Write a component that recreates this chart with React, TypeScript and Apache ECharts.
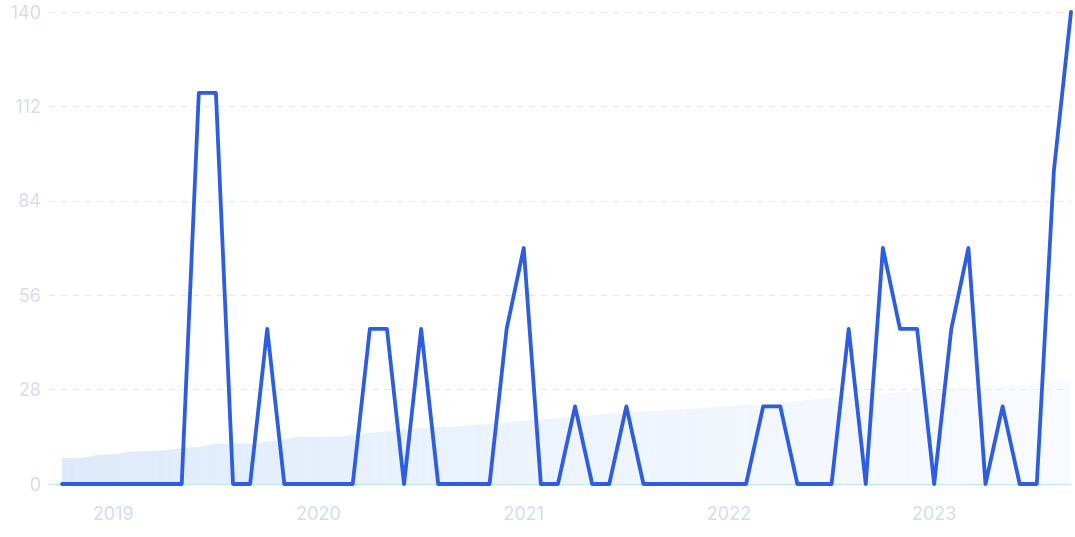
import React, { useEffect, useRef } from "react";
import * as echarts from "echarts";

const monthIndex: number[] = Array.from({ length: 60 }, (_, i) => i);

const seriesValues: number[] = [
  0, 0, 0, 0, 0, 0, 0, 0, 116, 116,
  0, 0, 46, 0, 0, 0, 0, 0, 46, 46,
  0, 46, 0, 0, 0, 0, 46, 70, 0, 0,
  23, 0, 0, 23, 0, 0, 0, 0, 0, 0,
  0, 23, 23, 0, 0, 0, 46, 0, 70, 46,
  46, 0, 46, 70, 0, 23, 0, 0, 93, 140,
];

const trendValues: number[] = [
  7.7, 7.7, 8.6, 8.9, 9.6, 9.8, 10.0, 10.7, 11.0, 11.9,
  12.0, 12.0, 12.6, 13.2, 14.0, 14.0, 14.0, 14.6, 15.2, 15.6,
  16.2, 16.5, 17.0, 17.0, 17.6, 17.8, 18.2, 18.8, 19.2, 19.6,
  20.0, 20.4, 20.8, 21.2, 21.6, 21.8, 22.0, 22.4, 22.8, 23.2,
  23.4, 23.6, 24.0, 24.6, 25.2, 25.6, 26.0, 26.4, 26.8, 27.2,
  27.6, 27.8, 28.2, 28.5, 28.8, 29.2, 29.6, 30.0, 30.5, 31.0,
];

const yearTickIndex: number[] = [3, 15, 27, 39, 51];
const yearLabels: string[] = ["2019", "2020", "2021", "2022", "2023"];

export default function App() {
  const ref = useRef<HTMLDivElement>(null);
  useEffect(() => {
    if (!ref.current) return;
    const chart = echarts.init(ref.current, undefined, { renderer: "svg" });
    const labelColor = "#d3dbf5";
    chart.setOption({
      animation: false,
      grid: { left: 49, right: 4, top: 12, bottom: 53, containLabel: false },
      xAxis: {
        type: "value",
        min: -0.76,
        max: 59,
        splitLine: { show: false },
        axisLine: { show: true, lineStyle: { color: "#bfe5fb", width: 1 } },
        axisTick: { show: false },
        axisLabel: {
          customValues: yearTickIndex,
          formatter: (v: number) => {
            const k = yearTickIndex.indexOf(Math.round(v));
            return k >= 0 ? yearLabels[k] : "";
          },
          color: labelColor,
          fontSize: 18,
          fontFamily: "Inter",
          margin: 20,
        },
      },
      yAxis: {
        type: "value",
        min: 0,
        max: 140,
        interval: 28,
        axisLine: { show: false },
        axisTick: { show: false },
        axisLabel: {
          color: labelColor,
          fontSize: 18,
          fontFamily: "Inter",
          margin: 8,
        },
        splitLine: {
          show: true,
          lineStyle: { color: "#e2e7f5", type: [6, 6], width: 1 },
        },
      },
      series: [
        {
          type: "line",
          data: monthIndex.map((i) => [i, trendValues[i]]),
          showSymbol: false,
          smooth: 0.3,
          lineStyle: { width: 0 },
          areaStyle: {
            opacity: 1,
            color: new echarts.graphic.LinearGradient(0, 0, 1, 0, [
              { offset: 0, color: "rgba(212,229,250,0.8)" },
              { offset: 1, color: "rgba(236,242,253,0.35)" },
            ]),
          },
          z: 1,
          silent: true,
        },
        {
          type: "line",
          data: monthIndex.map((i) => [i, seriesValues[i]]),
          showSymbol: false,
          smooth: false,
          lineStyle: { color: "#2d5de3", width: 3.8, join: "round", cap: "round" },
          z: 3,
        },
      ],
    });
    return () => chart.dispose();
  }, []);
  return (
    <div
      ref={ref}
      style={{ position: "fixed", left: 0, top: 0, width: 1075, height: 537 }}
    />
  );
}
